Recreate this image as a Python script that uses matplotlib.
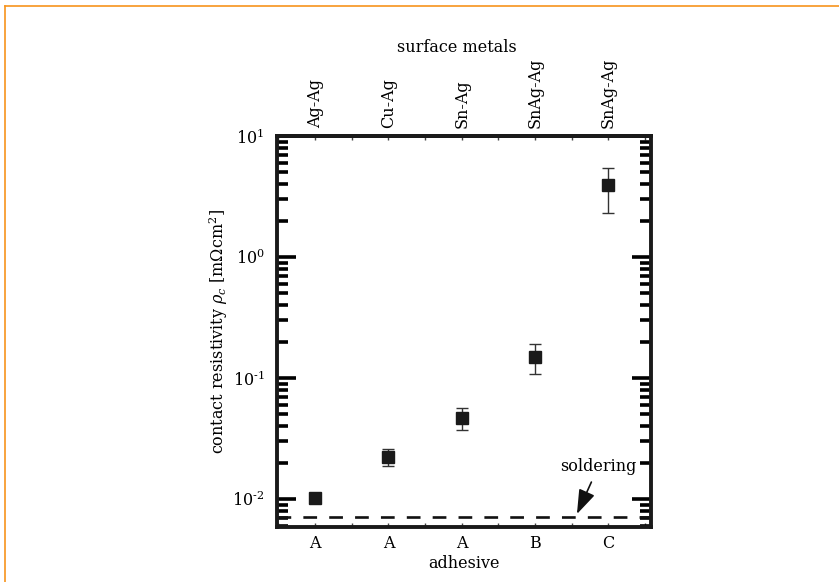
import matplotlib
matplotlib.use("Agg")
import matplotlib.pyplot as plt
from matplotlib.lines import Line2D
from matplotlib.ticker import LogLocator, NullFormatter, FixedLocator
import numpy as np

plt.rcParams['font.family'] = ['DejaVu Serif']
plt.rcParams['mathtext.fontset'] = 'dejavuserif'

FS = 11.5

# data
adhesive = ["A", "A", "A", "B", "C"]
surface_metals = ["Ag-Ag", "Cu-Ag", "Sn-Ag", "SnAg-Ag", "SnAg-Ag"]
rho = [0.0102, 0.0222, 0.0467, 0.149, 3.93]
rho_upper = [0.0102, 0.0259, 0.0565, 0.191, 5.44]
rho_lower = [0.0102, 0.0187, 0.0371, 0.108, 2.31]
soldering = 0.0071
ytick_vals = [0.01, 0.1, 1, 10]
ytick_labels = [r"10$^{\text{-}2}$", r"10$^{\text{-}1}$", r"10$^{0}$", r"10$^{1}$"]

fig = plt.figure(figsize=(8.39, 5.82), dpi=100)
# orange frame (top & left)
fig.add_artist(Line2D([5/839, 1.0], [1-6/582, 1-6/582], transform=fig.transFigure,
                      color='#F7941D', lw=1.2))
fig.add_artist(Line2D([5/839, 5/839], [0, 1-6/582], transform=fig.transFigure,
                      color='#F7941D', lw=1.2))

ax = fig.add_axes([277/839, 55/582, 374/839, 391/582])
x = np.arange(1, len(rho) + 1)
yerr = [np.array(rho) - np.array(rho_lower), np.array(rho_upper) - np.array(rho)]
ax.errorbar(x, rho, yerr=yerr, fmt='none', ecolor='#333333',
            elinewidth=1.0, capsize=4.5, capthick=1.0, zorder=2)
ax.plot(x, rho, 's', color='#1a1a1a', ms=9, zorder=3)
ax.axhline(soldering, color='#111111', lw=1.9, dashes=(5.2, 4.6), zorder=2)

ax.set_yscale('log')
ax.set_ylim(10**-2.231, 10)
ax.set_xlim(0.48, 5.58)

ax.set_xticks(x)
ax.set_xticklabels(adhesive, fontsize=FS)
ax.xaxis.set_minor_locator(FixedLocator(np.arange(0.5, 5.6, 0.5)))
ax.tick_params(axis='x', which='both', direction='in', length=3, width=1, top=False,
               pad=6, color='#444444')
ax.set_xlabel("adhesive", fontsize=FS, labelpad=2)

ax.yaxis.set_major_locator(FixedLocator(ytick_vals))
ax.set_yticklabels(ytick_labels, fontsize=FS)
ax.yaxis.set_minor_locator(LogLocator(base=10, subs=np.arange(2, 10), numticks=20))
ax.yaxis.set_minor_formatter(NullFormatter())
ax.tick_params(axis='y', which='major', direction='in', length=14, width=2.6,
               left=True, right=True, pad=9)
ax.tick_params(axis='y', which='minor', direction='in', length=8, width=2.6,
               left=True, right=True)
ax.set_ylabel(r"contact resistivity $\rho_c$ [m$\Omega$cm$^2$]", fontsize=FS)
ax.yaxis.set_label_coords(-0.125, 0.5)

for s in ax.spines.values():
    s.set_linewidth(2.8)
    s.set_color('#1a1a1a')

top = ax.secondary_xaxis('top')
top.set_xticks(x)
top.set_xticklabels(surface_metals, rotation=90, fontsize=FS)
top.xaxis.set_minor_locator(FixedLocator(np.arange(0.5, 5.6, 0.5)))
top.tick_params(axis='x', which='both', direction='in', length=3, width=1, pad=6,
                color='#444444')
top.spines['top'].set_linewidth(2.8)
fig.text(457/839, 1 - 47/582, "surface metals", fontsize=FS, ha='center', va='center')

ax.annotate("soldering", xy=(4.57, 0.00752), xytext=(4.86, 0.0184),
            fontsize=FS, ha='center', va='center',
            arrowprops=dict(arrowstyle='-|>,head_length=1.3,head_width=0.45',
                            color='#111111', lw=1.2, shrinkA=3, shrinkB=0))

fig.savefig("out.png", dpi=100)
